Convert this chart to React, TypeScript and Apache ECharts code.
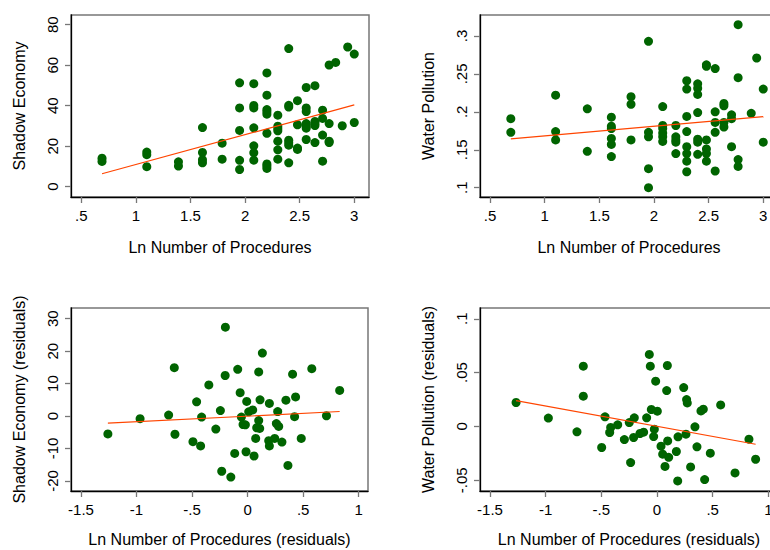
import React, { useEffect, useRef } from "react";
import * as echarts from "echarts";

// ---- Tick values ----
const procTicks = [0.5, 1, 1.5, 2, 2.5, 3];
const residTicks = [-1.5, -1, -0.5, 0, 0.5, 1];
const shadowTicks = [0, 20, 40, 60, 80];
const waterTicks = [0.1, 0.15, 0.2, 0.25, 0.3];
const shadowResidTicks = [-20, -10, 0, 10, 20, 30];
const waterResidTicks = [-0.05, 0, 0.05, 0.1];

// ---- Axis titles ----
const xTitleTop = "Ln Number of Procedures";
const xTitleBottom = "Ln Number of Procedures (residuals)";
const yTitles = ["Shadow Economy", "Water Pollution", "Shadow Economy (residuals)", "Water Pollution (residuals)"];

// ---- Panel 1: Shadow Economy vs Ln procedures ----
const shadowPoints = [
  [0.69, 14.1], [0.69, 12.5],
  [1.1, 17.1], [1.1, 15.8], [1.1, 9.9],
  [1.39, 12.3], [1.39, 10.2],
  [1.61, 29.2], [1.61, 16.9], [1.61, 13.3], [1.61, 11.8],
  [1.79, 21.5], [1.79, 13.6],
  [1.95, 51.3], [1.95, 38.9], [1.95, 27.8], [1.95, 13.0], [1.95, 8.5],
  [2.08, 50.9], [2.08, 40.1], [2.08, 38.9], [2.08, 29.1], [2.08, 20.2], [2.08, 16.8], [2.08, 13.1],
  [2.2, 56.2], [2.2, 45.2], [2.2, 38.1], [2.2, 37.0], [2.2, 35.8], [2.2, 26.4], [2.2, 11.2], [2.2, 10.2], [2.2, 9.0],
  [2.3, 35.3], [2.3, 29.9], [2.3, 28.7], [2.3, 27.6], [2.3, 22.5], [2.3, 18.2], [2.3, 13.6],
  [2.4, 68.2], [2.4, 40.2], [2.4, 39.3], [2.4, 23.0], [2.4, 21.7], [2.4, 20.5], [2.4, 11.8],
  [2.48, 42.5], [2.48, 30.6], [2.48, 19.1], [2.48, 18.4],
  [2.56, 49.0], [2.56, 38.9], [2.56, 37.1], [2.56, 31.2], [2.56, 29.9], [2.56, 28.9], [2.56, 23.3],
  [2.64, 49.9], [2.64, 32.2], [2.64, 31.2], [2.64, 30.2], [2.64, 21.8],
  [2.71, 37.8], [2.71, 33.7], [2.71, 25.5], [2.71, 12.6],
  [2.77, 60.1], [2.77, 31.2], [2.77, 22.5], [2.77, 21.8],
  [2.83, 61.4],
  [2.89, 30.1],
  [2.94, 69.0],
  [3.0, 65.5], [3.0, 31.7],
];
const shadowFit = [[0.69, 6.4], [3.0, 40.4]];

// ---- Panel 2: Water Pollution vs Ln procedures ----
const waterPoints = [
  [0.69, 0.191], [0.69, 0.173],
  [1.1, 0.222], [1.1, 0.174], [1.1, 0.163],
  [1.39, 0.204], [1.39, 0.148],
  [1.61, 0.193], [1.61, 0.181], [1.61, 0.178], [1.61, 0.165], [1.61, 0.157], [1.61, 0.141],
  [1.79, 0.22], [1.79, 0.21], [1.79, 0.163],
  [1.95, 0.293], [1.95, 0.173], [1.95, 0.167], [1.95, 0.125], [1.95, 0.1],
  [2.08, 0.207], [2.08, 0.182], [2.08, 0.178], [2.08, 0.172], [2.08, 0.167], [2.08, 0.161],
  [2.2, 0.182], [2.2, 0.167], [2.2, 0.163], [2.2, 0.16], [2.2, 0.145],
  [2.3, 0.241], [2.3, 0.23], [2.3, 0.194], [2.3, 0.174], [2.3, 0.154], [2.3, 0.145], [2.3, 0.135], [2.3, 0.121],
  [2.4, 0.237], [2.4, 0.231], [2.4, 0.223], [2.4, 0.199], [2.4, 0.164], [2.4, 0.16], [2.4, 0.144],
  [2.48, 0.262], [2.48, 0.26], [2.48, 0.163], [2.48, 0.151], [2.48, 0.145], [2.48, 0.135],
  [2.56, 0.257], [2.56, 0.2], [2.56, 0.186], [2.56, 0.173], [2.56, 0.122],
  [2.64, 0.211], [2.64, 0.208], [2.64, 0.186], [2.64, 0.18],
  [2.71, 0.196], [2.71, 0.191], [2.71, 0.154],
  [2.77, 0.315], [2.77, 0.245], [2.77, 0.137], [2.77, 0.128],
  [2.89, 0.198],
  [2.94, 0.271],
  [3.0, 0.23], [3.0, 0.16],
];
const waterFit = [[0.69, 0.1643], [3.0, 0.1938]];

// ---- Panel 3: residuals, Shadow Economy ----
const shadowResidPoints = [
  [-1.258, -5.5], [-0.968, -0.8], [-0.711, 0.3], [-0.66, 14.9], [-0.654, -5.6],
  [-0.492, -7.9], [-0.459, 4.4], [-0.423, -9.2], [-0.414, -0.3], [-0.349, 9.6],
  [-0.286, -4.0], [-0.245, 1.7], [-0.233, -17.0], [-0.202, 12.5], [-0.2, 27.4],
  [-0.151, -18.8], [-0.116, -11.5], [-0.089, 14.4], [-0.067, 7.2], [-0.056, -0.3],
  [-0.041, -2.6], [-0.02, -2.7], [-0.014, -11.0], [-0.008, 4.5], [0.01, 1.3],
  [0.046, 1.9], [0.058, -12.3], [0.073, -6.9], [0.082, -3.6], [0.1, -1.4],
  [0.1, 13.6], [0.109, -3.8], [0.112, 5.0], [0.133, 19.4], [0.19, -7.6],
  [0.196, 3.9], [0.196, -9.2], [0.244, -6.9], [0.259, -2.3], [0.271, 1.4],
  [0.28, -3.2], [0.309, -8.0], [0.345, 4.9], [0.363, -15.2], [0.405, 12.9],
  [0.423, -0.2], [0.432, 5.9], [0.483, -6.9], [0.578, 14.6], [0.71, 0.1],
  [0.829, 7.9],
];
const shadowResidFit = [[-1.258, -2.2], [0.829, 1.4]];

// ---- Panel 4: residuals, Water Pollution ----
const waterResidPoints = [
  [-1.266, 0.0222], [-0.976, 0.0077], [-0.719, -0.005], [-0.662, 0.056], [-0.662, 0.0281],
  [-0.497, -0.0196], [-0.467, 0.0089], [-0.425, -0.0057], [-0.416, -0.001], [-0.353, 0.0015],
  [-0.293, -0.0122], [-0.249, 0.0036], [-0.237, -0.0336], [-0.21, -0.0103], [-0.204, 0.008],
  [-0.153, -0.0066], [-0.12, -0.0054], [-0.093, 0.008], [-0.069, 0.0669], [-0.06, 0.056],
  [-0.051, 0.0157], [-0.03, -0.0094], [-0.024, -0.0026], [-0.012, 0.042], [0.003, 0.0142],
  [0.036, -0.0184], [0.051, -0.0258], [0.072, -0.0372], [0.087, 0.0333], [0.093, 0.0566],
  [0.096, -0.0135], [0.105, -0.0287], [0.174, -0.0233], [0.186, -0.0506], [0.189, -0.0097],
  [0.24, 0.0361], [0.26, -0.0072], [0.266, 0.0249], [0.272, 0.0218], [0.302, -0.0376],
  [0.341, -0.0004], [0.359, -0.019], [0.395, 0.0144], [0.416, 0.016], [0.428, -0.0494],
  [0.479, -0.0249], [0.572, 0.02], [0.701, -0.0432], [0.826, -0.0119], [0.886, -0.0305],
];
const waterResidFit = [[-1.266, 0.024], [0.886, -0.0166]];

const FONT = "Liberation Sans, Arial, Helvetica, sans-serif";
const DOT = "#006400";
const FIT = "#ff4500";

function fmt(v: number): string {
  const s = String(v);
  return s.replace(/^0\./, ".").replace(/^-0\./, "-.");
}

function xAxisCfg(gridIndex: number, min: number, max: number, ticks: number[], name: string, nameGap: number) {
  return {
    type: "value",
    gridIndex,
    min,
    max,
    name,
    nameLocation: "middle",
    nameGap,
    nameTextStyle: { fontSize: 16, color: "#000", fontFamily: FONT },
    axisLine: { show: true, onZero: false, lineStyle: { color: "#000", width: 1.3 } },
    axisTick: { show: true, inside: false, length: 6, customValues: ticks, lineStyle: { color: "#777", width: 1.3 } },
    axisLabel: { show: true, customValues: ticks, formatter: fmt, fontSize: 15, color: "#000", margin: 11, fontFamily: FONT },
    splitLine: { show: false },
  };
}

function yAxisCfg(gridIndex: number, min: number, max: number, ticks: number[], name: string, nameGap: number) {
  return {
    type: "value",
    gridIndex,
    min,
    max,
    name,
    nameLocation: "middle",
    nameGap,
    nameTextStyle: { fontSize: 16, color: "#000", fontFamily: FONT },
    axisLine: { show: true, onZero: false, lineStyle: { color: "#000", width: 1.3 } },
    axisTick: { show: true, inside: false, length: 6, customValues: ticks, lineStyle: { color: "#777", width: 1.3 } },
    axisLabel: { show: true, customValues: ticks, formatter: fmt, rotate: 90, fontSize: 15, color: "#000", margin: 11, fontFamily: FONT },
    splitLine: { show: false },
  };
}

function scatter(i: number, data: number[][]) {
  return {
    type: "scatter",
    xAxisIndex: i,
    yAxisIndex: i,
    data,
    symbol: "circle",
    symbolSize: 9,
    itemStyle: { color: DOT, opacity: 1 },
    z: 2,
  };
}

function fitLine(i: number, data: number[][]) {
  return {
    type: "line",
    xAxisIndex: i,
    yAxisIndex: i,
    data,
    symbol: "none",
    lineStyle: { color: FIT, width: 1.2 },
    z: 3,
  };
}

export default function App() {
  const ref = useRef<HTMLDivElement>(null);
  useEffect(() => {
    if (!ref.current) return;
    const chart = echarts.init(ref.current, undefined, { renderer: "svg" });
    const gridBase = { show: true, borderColor: "#777", borderWidth: 1.5, backgroundColor: "transparent", containLabel: false, outerBoundsMode: "none" };
    chart.setOption({
      animation: false,
      backgroundColor: "#fff",
      textStyle: { fontFamily: FONT },
      grid: [
        { ...gridBase, left: 71, top: 15, width: 298, height: 182 },
        { ...gridBase, left: 480, top: 15, width: 298, height: 182 },
        { ...gridBase, left: 71, top: 308, width: 297, height: 183 },
        { ...gridBase, left: 480, top: 308, width: 298, height: 183 },
      ],
      xAxis: [
        xAxisCfg(0, 0.406, 3.135, procTicks, xTitleTop, 42),
        xAxisCfg(1, 0.408, 3.135, procTicks, xTitleTop, 42),
        xAxisCfg(2, -1.59, 1.084, residTicks, xTitleBottom, 40),
        xAxisCfg(3, -1.59, 1.087, residTicks, xTitleBottom, 40),
      ],
      yAxis: [
        yAxisCfg(0, -5.09, 84.8, shadowTicks, yTitles[0], 44),
        yAxisCfg(1, 0.0877, 0.3277, waterTicks, yTitles[1], 44),
        yAxisCfg(2, -23.09, 33.3, shadowResidTicks, yTitles[2], 44),
        yAxisCfg(3, -0.06, 0.11, waterResidTicks, yTitles[3], 44),
      ],
      series: [
        scatter(0, shadowPoints),
        fitLine(0, shadowFit),
        scatter(1, waterPoints),
        fitLine(1, waterFit),
        scatter(2, shadowResidPoints),
        fitLine(2, shadowResidFit),
        scatter(3, waterResidPoints),
        fitLine(3, waterResidFit),
      ],
    });
    return () => chart.dispose();
  }, []);
  return (
    <div
      ref={ref}
      style={{ position: "absolute", left: 0, top: 0, width: 770, height: 550, background: "#fff" }}
    />
  );
}
